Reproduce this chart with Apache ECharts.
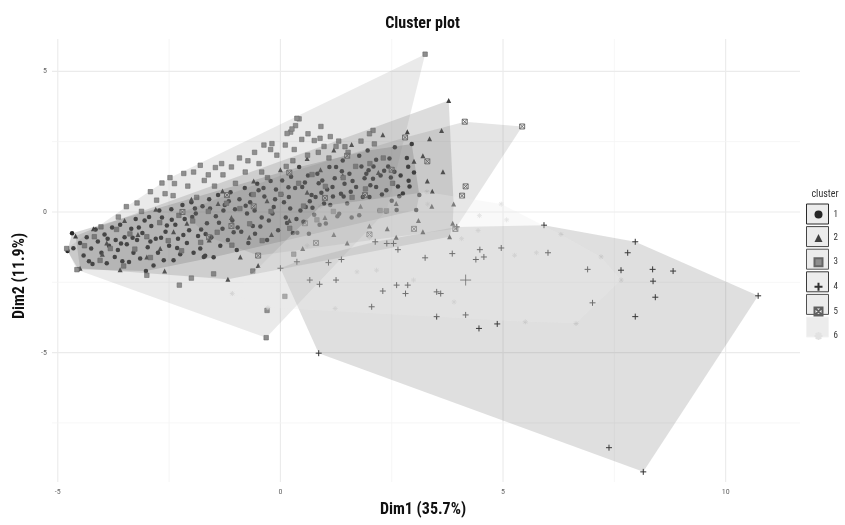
<!DOCTYPE html>
<html>
<head>
<meta charset="utf-8">
<script src="https://cdn.jsdelivr.net/npm/echarts@6/dist/echarts.min.js"></script>
<style>html,body{margin:0;padding:0;background:#fff}#c{width:845px;height:525px}</style>
</head>
<body>
<div id="c"></div>
<script>
// ---- tick labels / grid positions ----
const xTicks = [-5, 0, 5, 10];
const yTicks = [-5, 0, 5];
const xMinor = [-2.5, 2.5, 7.5];
const yMinor = [-7.5, -2.5, 2.5];
const clusterNames = ['1', '2', '3', '4', '5', '6'];

// ---- cluster 1 (circles) ----
const cluster1 = [
[-4.78,-1.39],[-4.68,-0.76],[-4.65,-1.29],[-4.54,-2.04],[-4.5,-1.1],[-4.42,-1.55],[-4.35,-0.9],[-4.3,-1.75],[-4.25,-1.3],
[-4.22,-1.85],[-4.15,-0.62],[-4.1,-1.05],[-4.02,-1.45],[-3.95,-0.8],[-3.9,-1.82],[-3.85,-1.2],[-3.78,-0.55],[-3.72,-1.6],[-3.7,-1.0],
[-3.65,-1.35],[-3.6,-0.45],[-3.55,-1.75],[-3.5,-0.9],[-3.45,-1.15],[-3.4,-1.78],[-3.35,-0.6],[-3.3,-1.45],[-3.25,-0.25],[-3.22,-1.0],
[-3.15,-1.65],[-3.1,-0.75],[-3.05,-0.3],[-3.02,-2.1],[-2.98,-1.25],[-2.9,-0.5],[-2.85,-1.9],[-2.8,-0.95],[-2.75,-1.45],[-2.72,0.05],
[-2.66,-0.2],[-2.62,-1.72],[-2.58,-0.7],[-2.5,-1.2],[-2.45,0.1],[-2.4,-1.72],[-2.36,-0.45],[-2.3,-0.95],[-2.25,-1.5],[-2.2,0.25],
[-2.15,-0.25],[-2.1,-1.1],[-2.05,-0.65],[-2.0,0.35],[-1.95,-1.45],[-1.9,-0.05],[-1.85,-0.85],[-1.8,-1.3],[-1.75,0.2],[-1.72,-1.6],
[-1.69,-1.56],[-1.65,-0.4],[-1.6,0.45],[-1.55,-0.9],[-1.5,-1.61],[-1.45,-0.15],[-1.4,0.6],[-1.35,-1.2],[-1.3,-0.6],[-1.25,0.25],
[-1.18,-1.0],[-1.12,0.7],[-1.08,-0.3],[-1.02,0.1],[-0.98,-1.35],[-0.92,0.45],[-0.88,-0.7],[-0.8,0.85],[-0.75,-0.05],[-0.72,-1.1],
[-0.68,0.35],[-0.62,-0.5],[-0.57,-0.77],[-0.52,1.0],[-0.49,0.77],[-0.42,-0.2],[-0.36,0.55],[-0.3,-1.0],[-0.26,-0.3],[-0.22,1.1],
[-0.15,0.18],[-0.1,0.8],[-0.05,-0.65],[0.04,1.12],[0.08,0.35],[0.12,-0.2],[0.15,-0.39],[0.19,0.53],[0.24,1.25],[0.28,-0.75],
[0.38,-0.74],[0.42,1.6],[0.45,0.05],[0.49,0.89],[0.52,-0.35],[0.57,0.18],[0.62,1.3],[0.64,-0.77],[0.7,0.6],[0.76,-0.1],
[0.79,0.53],[0.83,1.36],[0.88,-0.45],[0.94,1.12],[0.98,0.3],[1.02,-0.41],[1.05,0.8],[1.1,1.6],[1.17,0.89],[1.25,1.6],[1.28,-0.15],
[1.32,-0.06],[1.36,0.65],[1.4,1.83],[1.44,1.0],[1.5,0.3],[1.55,1.36],[1.6,-0.2],[1.7,0.89],[1.77,2.0],[1.77,-0.12],
[1.85,0.53],[1.89,1.2],[1.93,1.36],[1.96,2.19],[2.0,0.53],[2.08,1.18],[2.09,1.62],[2.15,0.89],[2.15,1.86],[2.22,0.05],
[2.33,1.47],[2.37,0.02],[2.38,0.77],[2.45,1.9],[2.48,1.23],[2.5,0.4],[2.56,1.43],[2.57,2.3],[2.61,0.07],[2.64,0.91],[2.67,0.56],[2.75,0.66],
[2.84,1.92],[2.87,1.61],[2.88,1.11],[2.9,0.91],[2.95,2.42],[3.0,1.4],[3.05,0.07],[3.12,0.6],
[-3.88,-0.95],[-3.58,-1.12],[-3.18,-0.55],[-2.92,-1.05],[-2.68,-0.92],[-2.44,-0.28],[-2.18,-0.82],[-1.98,-0.18],[-1.78,-0.62],[-1.58,0.12],
[-1.38,-0.38],[-1.16,0.38],[-0.96,-0.55],[-0.78,0.22],[-0.58,0.05],[-0.38,0.85],[-0.18,-0.05],[0.02,0.62],[0.22,0.12],[0.33,0.85],
[0.55,1.05],[0.72,0.15],[0.92,0.68],[1.12,0.25],[1.22,1.2],[1.42,0.55],[1.62,1.1],[1.82,1.62],[2.02,0.95],[2.25,1.3],[2.42,1.62],[2.7,1.3],
[-3.32,-0.92],[-2.95,-0.18],[-2.55,-0.48],[-2.32,-1.28],[-1.92,0.12],[-1.68,-0.78],[-1.28,0.05],[-1.05,-0.72],[-0.66,0.62],[-0.45,-0.52],
[-0.12,0.45],[0.18,0.88],[0.36,-0.25],[0.66,0.38],[0.86,1.02],[1.18,0.55],[1.38,1.45],[1.58,0.72],[1.98,1.48],[2.28,0.62]
];

// ---- cluster 2 (triangles) ----
const cluster2 = [
[3.78,3.96],[3.65,1.43],[3.89,0.28],[3.87,-0.4],[3.8,-0.88],[3.41,0.74],[3.3,1.1],[3.2,2.0],[3.35,2.6],[2.85,2.85],
[2.3,2.75],[1.6,2.4],[1.2,2.2],[0.6,1.9],[0.0,1.5],[-0.6,1.1],[-1.3,0.75],[-2.0,0.45],[-2.8,0.1],[-3.5,-0.3],
[-4.2,-0.6],[-4.6,-0.85],[-4.5,-2.0],[-3.6,-2.05],[-2.6,-2.1],[-1.18,-2.39],[-0.5,-1.9],[0.5,-1.3],[1.5,-1.1],[2.6,-0.9],
[3.2,-0.7],[-3.9,-1.1],[-3.2,-0.8],[-2.7,-1.3],[-2.1,-0.4],[-1.6,-1.0],[-1.1,-0.2],[-0.7,-0.9],[-0.3,0.4],[0.2,-0.3],
[0.6,0.7],[1.0,-0.2],[1.4,1.3],[1.8,0.2],[2.2,1.4],[2.6,0.3],[3.0,1.8],[3.4,0.2],[2.0,-0.5],[0.9,1.5],
[-0.2,-0.8],[-1.4,0.3],[-2.4,-0.7],[-3.0,-1.6],[-4.0,-1.5],[3.62,2.9],[3.1,-0.3],[2.4,-0.6],[1.2,-0.8],[-0.9,-1.6]
];

// ---- cluster 3 (squares) ----
const cluster3 = [
[3.25,5.61],[2.08,2.9],[2.0,2.78],[0.91,3.04],[0.42,3.31],[0.34,3.07],[0.37,3.33],[0.23,2.84],[0.26,2.95],[0.15,2.79],
[-0.19,2.43],[-0.37,2.38],[0.11,2.38],[0.76,2.54],[1.25,2.33],[0.98,2.33],[-0.73,1.82],[-1.1,1.6],[-1.46,1.58],[-1.8,1.66],
[-2.17,1.37],[-2.38,1.01],[-2.66,1.03],[-2.59,0.65],[-3.46,0.19],[-3.64,-0.18],[-4.03,-0.53],[-4.8,-1.3],[-4.57,-2.05],[-2.27,-2.6],
[-0.32,-4.47],[-4.4,-1.2],[-4.18,-0.88],[-4.05,-1.72],[-3.82,-1.3],[-3.68,-0.62],[-3.52,-1.92],[-3.38,-0.78],[-3.27,-1.32],[-3.12,0.02],
[-3.0,-0.88],[-2.92,-1.62],[-2.78,0.42],[-2.71,-0.38],[-2.52,-1.02],[-2.41,0.58],[-2.28,-0.12],[-2.22,-1.38],[-2.08,0.92],[-1.97,-0.32],
[-1.88,0.52],[-1.79,-1.08],[-1.71,1.12],[-1.62,0.02],[-1.48,0.92],[-1.42,-0.72],[-1.29,1.32],[-1.21,0.31],[-1.09,-1.18],[-1.01,1.02],
[-0.91,0.12],[-0.79,1.42],[-0.69,-0.42],[-0.61,0.62],[-0.48,1.72],[-0.41,-1.02],[-0.29,1.22],[-0.21,0.02],[-0.08,2.02],[0.01,0.63],
[0.13,1.62],[0.21,-0.58],[0.31,2.22],[0.41,1.02],[0.52,0.21],[0.61,2.02],[0.71,1.33],[0.82,-0.28],[0.89,2.62],[1.01,0.91],
[1.09,1.92],[1.19,0.02],[1.31,2.52],[1.41,1.22],[1.52,2.12],[1.61,0.52],[1.69,1.62],[1.81,2.52],[1.91,0.82],[2.01,1.72],
[2.11,2.42],[2.24,0.05],[2.38,0.04],[2.31,1.92],[2.52,1.02],[-0.62,-2.1],[-1.5,-2.2],[0.1,-3.0],[-0.3,-3.5],[0.3,-1.5],
[-3.0,-2.25],[-2.0,-2.35],
[-2.92,0.72],[-2.48,1.22],[-1.95,1.42],[-1.32,1.72],[-0.92,1.92],[-0.58,2.12],[-0.22,2.22],[0.48,2.58],[0.62,2.78],[1.12,2.68],
[-3.22,0.32],[-1.62,1.32],[-0.42,1.42],[0.28,1.82],[0.85,2.12],[1.45,2.32]
];

// ---- cluster 4 (plus) ----
const cluster4 = [
[5.92,-0.47],[7.97,-1.06],[7.8,-1.45],[10.73,-2.98],[8.36,-2.04],[8.82,-2.1],[7.65,-2.07],[6.9,-2.04],[8.37,-2.46],[8.42,-3.03],
[7.01,-3.23],[7.97,-3.72],[6.01,-1.45],[4.96,-1.28],[4.48,-1.34],[4.57,-1.6],[4.39,-1.69],[3.86,-1.48],[3.25,-1.63],[2.61,-2.6],
[2.86,-2.6],[2.3,-2.81],[2.81,-2.9],[3.51,-2.84],[3.6,-2.9],[2.05,-3.37],[3.51,-3.72],[4.16,-3.66],[4.46,-4.14],[4.87,-3.98],
[0.86,-5.02],[7.38,-8.38],[8.15,-9.24],[3.96,-0.53],[2.13,-1.06],[2.39,-1.12],[2.54,-1.12],[2.64,-1.34],[0.0,-2.0],[0.37,-1.77],
[1.08,-1.8],[1.37,-1.69],[0.66,-2.42],[0.88,-2.57],[1.25,-2.42]
];
const center4 = [[4.16,-2.42]];

// ---- cluster 5 (boxed cross) ----
const cluster5 = [
[4.14,3.21],[5.43,3.04],[4.16,0.91],[4.08,0.58],[3.93,-0.6],[2.8,2.65],[1.5,2.0],[0.2,1.4],[-1.2,0.6],[-2.2,0.0],
[-1.6,-0.9],[-0.5,-1.55],[0.8,-1.1],[2.0,-0.8],[3.0,-0.6],[1.0,0.5],[2.5,1.5],[-0.6,0.2],[3.3,1.8],[0.55,-0.4],
[1.9,0.6],[-1.1,-0.5]
];

// ---- cluster 6 (asterisk, very light) ----
const cluster6 = [
[4.96,0.28],[4.47,-0.13],[5.08,-0.28],[3.31,0.28],[3.29,0.71],[4.44,-0.66],[4.07,-0.95],[5.26,-1.54],[5.75,-1.45],[6.64,-3.96],
[7.65,-2.42],[1.23,-3.43],[1.72,-2.13],[2.16,-2.07],[2.99,-2.42],[0.6,-1.2],[3.9,-3.2],[5.5,-3.9],[7.2,-1.6],[6.3,-0.8],
[0.9,0.2],[2.0,-0.9],[-1.08,-2.9],[-0.28,-3.4]
];

const X_MIN = -5.13, X_MAX = 11.67, Y_MIN = -9.6, Y_MAX = 6.15;
const FONT = "'Liberation Sans Narrow', 'Roboto Condensed', 'DejaVu Sans Condensed', Roboto, sans-serif";

function hull(pts) {
  const p = pts.slice().sort((a, b) => a[0] - b[0] || a[1] - b[1]);
  const cross = (o, a, b) => (a[0]-o[0])*(b[1]-o[1]) - (a[1]-o[1])*(b[0]-o[0]);
  const lo = [], up = [];
  for (const q of p) { while (lo.length >= 2 && cross(lo[lo.length-2], lo[lo.length-1], q) <= 0) lo.pop(); lo.push(q); }
  for (let i = p.length - 1; i >= 0; i--) { const q = p[i]; while (up.length >= 2 && cross(up[up.length-2], up[up.length-1], q) <= 0) up.pop(); up.push(q); }
  lo.pop(); up.pop();
  return lo.concat(up);
}

const PLUS = 'path://M0,5L10,5M5,0L5,10';
const BOXX = 'path://M0,0L10,0L10,10L0,10Z M0,0L10,10 M10,0L0,10';
const STAR = 'path://M0,5L10,5M5,0L5,10M1.5,1.5L8.5,8.5M8.5,1.5L1.5,8.5';

const clusters = [
  { name: '1', data: cluster1, symbol: 'circle', size: 4.5, item: { color: '#262626' }, fill: 'rgba(55,55,55,0.2)', edge: '#2a2a2a' },
  { name: '2', data: cluster2, symbol: 'triangle', size: 5, item: { color: '#404040' }, fill: 'rgba(85,85,85,0.2)', edge: '#444' },
  { name: '3', data: cluster3, symbol: 'rect', size: 4.5, item: { color: '#8e8e8e', borderColor: '#666', borderWidth: 0.6 }, fill: 'rgba(150,150,150,0.2)', edge: '#555' },
  { name: '4', data: cluster4, symbol: PLUS, size: 6, item: { color: 'rgba(0,0,0,0)', borderColor: '#303030', borderWidth: 1 }, fill: 'rgba(95,95,95,0.2)', edge: '#3a3a3a' },
  { name: '5', data: cluster5, symbol: BOXX, size: 5, item: { color: 'rgba(0,0,0,0)', borderColor: '#606060', borderWidth: 0.9 }, fill: 'rgba(125,125,125,0.2)', edge: '#505050' },
  { name: '6', data: cluster6, symbol: STAR, size: 5, item: { color: 'rgba(0,0,0,0)', borderColor: '#e2e2e2', borderWidth: 0.9 }, fill: 'rgba(235,235,235,0.3)', edge: '#f3f3f3' }
];

const series = [];
// grid lines drawn from tick arrays
const gridData = xTicks.map(v => [v, 0, 0, 1]).concat(xMinor.map(v => [v, 0, 0, 0]))
  .concat(yTicks.map(v => [0, v, 1, 1])).concat(yMinor.map(v => [0, v, 1, 0]));
series.push({
  type: 'custom', name: 'grid', silent: true, z: 0, data: gridData, animation: false,
  renderItem: function (params, api) {
    const horiz = api.value(2) === 1, major = api.value(3) === 1;
    let a, b;
    if (horiz) { a = api.coord([X_MIN, api.value(1)]); b = api.coord([X_MAX, api.value(1)]); }
    else { a = api.coord([api.value(0), Y_MIN]); b = api.coord([api.value(0), Y_MAX]); }
    return { type: 'line', shape: { x1: a[0], y1: a[1], x2: b[0], y2: b[1] },
      style: { stroke: major ? '#ebebeb' : '#f4f4f4', lineWidth: major ? 1.1 : 0.8 } };
  }
});
// points
clusters.forEach(c => {
  series.push({ type: 'scatter', name: c.name, data: c.data, symbol: c.symbol, symbolSize: c.size,
    itemStyle: Object.assign({ opacity: 1 }, c.item), z: 2, animation: false, silent: true });
});
series.push({ type: 'scatter', name: 'center4', data: center4, symbol: PLUS, symbolSize: 11,
  itemStyle: { color: 'rgba(0,0,0,0)', borderColor: '#303030', borderWidth: 1 }, z: 2, animation: false, silent: true });
// hull polygons
clusters.forEach(c => {
  const h = hull(c.data);
  series.push({ type: 'custom', name: 'hull' + c.name, data: [[0, 0]], z: 3, silent: true, animation: false,
    renderItem: function (params, api) {
      return { type: 'polygon', shape: { points: h.map(p => api.coord(p)) }, style: { fill: c.fill, stroke: 'none' } };
    }
  });
});

// legend key boxes and texts (layout only)
const keyTop = 203.5, keyStep = 22.6;
const g = [];
clusters.forEach((c, i) => {
  g.push({ type: 'rect', z: 1, shape: { x: 806.5, y: keyTop + i * keyStep + 0.5, width: 22, height: 20 },
    style: { fill: '#ececec', stroke: c.edge, lineWidth: 1 } });
});
g.push({ type: 'text', z: 5, x: 825, y: 194, style: { text: 'cluster', fill: '#333', font: '10px ' + FONT, textAlign: 'center', textVerticalAlign: 'middle' } });
g.push({ type: 'text', z: 5, x: 423, y: 510, style: { text: 'Dim1 (35.7%)', fill: '#111', font: 'bold 16px ' + FONT, textAlign: 'center', textVerticalAlign: 'middle' } });
g.push({ type: 'text', z: 5, x: 20, y: 276, rotation: Math.PI / 2, style: { text: 'Dim2 (11.9%)', fill: '#111', font: 'bold 16px ' + FONT, textAlign: 'center', textVerticalAlign: 'middle' } });

const chart = echarts.init(document.getElementById('c'), null, { renderer: 'canvas' });
chart.setOption({
  backgroundColor: '#ffffff',
  animation: false,
  title: { text: 'Cluster plot', left: 'center', top: 11,
    textStyle: { fontSize: 16, fontWeight: 'bold', color: '#111', fontFamily: FONT } },
  grid: { left: 52, right: 45, top: 39, bottom: 43, containLabel: false },
  xAxis: { type: 'value', min: X_MIN, max: X_MAX,
    axisLine: { show: false }, axisTick: { show: false }, splitLine: { show: false },
    axisLabel: { customValues: xTicks, color: '#666', fontSize: 8, margin: 6, fontFamily: FONT } },
  yAxis: { type: 'value', min: Y_MIN, max: Y_MAX,
    axisLine: { show: false }, axisTick: { show: false }, splitLine: { show: false },
    axisLabel: { customValues: yTicks, color: '#666', fontSize: 8, margin: 5, fontFamily: FONT } },
  legend: { data: clusterNames, orient: 'vertical', left: 813.5, top: 210, padding: 0, itemWidth: 8, itemHeight: 8,
    itemGap: 14.6, z: 10, selectedMode: false,
    textStyle: { fontSize: 9, color: '#333', fontFamily: FONT, padding: [0, 0, 0, 6] } },
  graphic: g,
  series: series
});
</script>
</body>
</html>
